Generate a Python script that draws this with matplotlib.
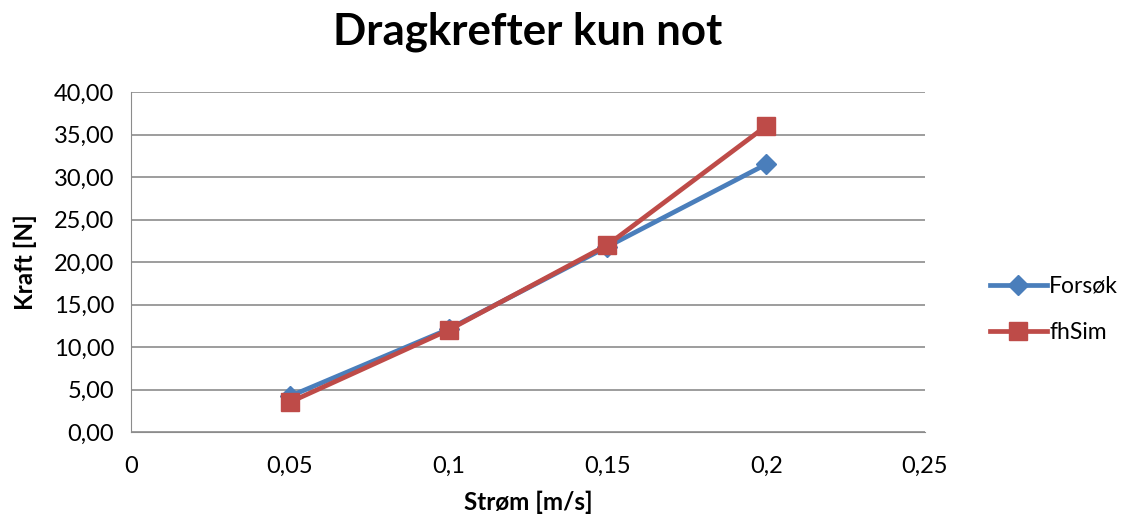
# Dragkrefter kun not - Forsøk vs fhSim
import matplotlib.pyplot as plt
from matplotlib.ticker import FuncFormatter

plt.rcParams['font.family'] = ['Lato', 'DejaVu Sans']

strom = [0.05, 0.1, 0.15, 0.2]
forsok = [4.2, 12.1, 21.8, 31.5]
fhsim = [3.5, 12.0, 22.0, 36.0]

fig = plt.figure(figsize=(11.22, 5.2), dpi=100)
ax = fig.add_axes([131 / 1122, 88 / 520, 794 / 1122, 340 / 520])

ax.plot(strom, forsok, color='#4A7EBB', lw=3.4, marker='D', markersize=10,
        label='Forsøk', zorder=3)
ax.plot(strom, fhsim, color='#BE4B48', lw=3.4, marker='s', markersize=13,
        label='fhSim', zorder=4)

ax.set_xlim(0, 0.25)
ax.set_ylim(0, 40)
ax.set_xticks([0, 0.05, 0.1, 0.15, 0.2, 0.25])
ax.set_yticks(range(0, 41, 5))
ax.xaxis.set_major_formatter(FuncFormatter(lambda v, p: ('%g' % round(v, 2)).replace('.', ',')))
ax.yaxis.set_major_formatter(FuncFormatter(lambda v, p: ('%.2f' % v).replace('.', ',')))
ax.grid(axis='y', color='#8c8c8c', lw=1.2)
ax.set_axisbelow(True)
for s in ['top', 'right']:
    ax.spines[s].set_visible(False)
ax.spines['left'].set_color('#8c8c8c')
ax.spines['bottom'].set_color('#8c8c8c')
ax.tick_params(axis='x', length=0, labelsize=17, pad=17)
ax.tick_params(axis='y', length=0, labelsize=17, pad=12)

ax.set_title('Dragkrefter kun not', fontsize=31.5, fontweight='bold', pad=34)
ax.set_xlabel('Strøm [m/s]', fontsize=17.5, fontweight='bold', labelpad=10)
ax.set_ylabel('Kraft [N]', fontsize=17.5, fontweight='bold', labelpad=12)

ax.legend(loc='center left', bbox_to_anchor=(1.07, 0.36), frameon=False,
          fontsize=16.5, labelspacing=1.1, handlelength=2.5, handletextpad=0.1,
          borderaxespad=0)

fig.savefig('out.png', dpi=100)
